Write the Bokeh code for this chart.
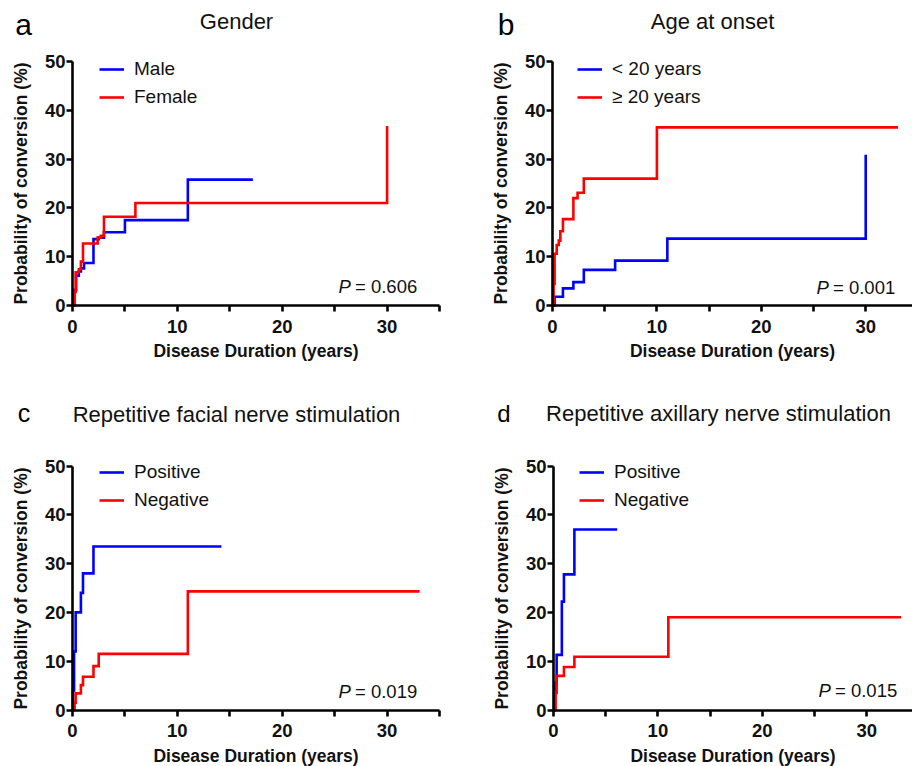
from bokeh.plotting import figure
from bokeh.models import Range1d, FixedTicker, Label, Legend, LegendItem
from bokeh.layouts import gridplot
from bokeh.embed import file_html
from bokeh.resources import INLINE

FONT = "Liberation Sans"
BLUE = "#0000FF"
RED = "#FF0000"
INK = "#111111"

# ---------------- data ----------------
# Panel a: Gender
a_male_t = [0, 0.15, 0.35, 0.6, 0.8, 1.1, 2.0, 2.5, 3.0, 5.0, 11.0, 17.2]
a_male_v = [0, 3.2, 6.1, 7.0, 7.6, 8.7, 13.6, 13.9, 15.0, 17.5, 25.8, 25.8]
a_female_t = [0, 0.2, 0.3, 0.6, 0.8, 1.0, 2.4, 2.7, 3.0, 6.0, 30.0]
a_female_v = [0, 2.8, 6.8, 7.4, 9.0, 12.7, 13.9, 14.3, 18.2, 21.0, 36.8]

# Panel b: Age at onset
b_young_t = [0, 0.2, 1.0, 2.0, 3.0, 6.0, 11.0, 30.0]
b_young_v = [0, 1.8, 3.5, 4.8, 7.3, 9.2, 13.7, 30.9]
b_old_t = [0, 0.1, 0.2, 0.4, 0.6, 0.75, 1.0, 2.0, 2.4, 3.0, 10.0, 33.1]
b_old_v = [0, 4.4, 10.6, 12.4, 13.3, 15.2, 17.7, 22.0, 23.1, 26.0, 36.5, 36.5]

# Panel c: Repetitive facial nerve stimulation
c_pos_t = [0, 0.05, 0.15, 0.3, 0.8, 1.0, 2.0, 14.2]
c_pos_v = [0, 4.0, 12.0, 20.0, 24.0, 28.0, 33.5, 33.5]
c_neg_t = [0, 0.2, 0.3, 0.8, 1.0, 2.0, 2.5, 11.0, 33.1]
c_neg_v = [0, 1.5, 3.4, 5.1, 6.8, 9.0, 11.5, 24.3, 24.3]

# Panel d: Repetitive axillary nerve stimulation
d_pos_t = [0, 0.13, 0.3, 0.8, 1.0, 2.0, 6.1]
d_pos_v = [0, 5.6, 11.3, 22.2, 27.8, 37.0, 37.0]
d_neg_t = [0, 0.2, 0.3, 1.0, 2.0, 11.0, 33.3]
d_neg_v = [0, 3.5, 7.0, 8.8, 10.9, 19.0, 19.0]

y_ticks = [0, 10, 20, 30, 40, 50]
x_major = [0, 10, 20, 30]
x_minor = [5, 15, 25, 35]
x_bounds = (0, 35)
y_bounds = (0, 50)

titles = ["Gender", "Age at onset", "Repetitive facial nerve stimulation",
          "Repetitive axillary nerve stimulation"]
letters = ["a", "b", "c", "d"]
legend_labels = [["Male", "Female"], ["< 20 years", "\u2265 20 years"],
                 ["Positive", "Negative"], ["Positive", "Negative"]]
p_values = ["0.606", "0.001", "0.019", "0.015"]

W, H = 456, 383


def make_panel(blue_t, blue_v, red_t, red_v, labels, title, letter, pval,
               x0, y0, ppx, ppy,
               title_x, title_y, letter_x, letter_y, letter_size,
               p_x, p_y, leg_x, leg_y):
    # x0, y0: pixel position of the data origin (from left / from top)
    p = figure(width=W, height=H, output_backend="svg", toolbar_location=None,
               x_range=Range1d(-x0 / ppx, (W - x0) / ppx),
               y_range=Range1d(-(H - y0) / ppy, y0 / ppy),
               min_border=0)
    p.outline_line_color = None
    p.grid.visible = False
    p.background_fill_color = "white"
    p.border_fill_color = "white"

    rb = p.step(blue_t, blue_v, mode="after", line_color=BLUE, line_width=2.6,
                line_join="miter")
    rr = p.step(red_t, red_v, mode="after", line_color=RED, line_width=2.6,
                line_join="miter")

    xa = p.xaxis[0]
    ya = p.yaxis[0]
    xa.fixed_location = 0
    ya.fixed_location = 0
    xa.bounds = x_bounds
    ya.bounds = y_bounds
    xa.ticker = FixedTicker(ticks=x_major, minor_ticks=x_minor)
    ya.ticker = FixedTicker(ticks=y_ticks, minor_ticks=[])
    for ax in (xa, ya):
        ax.axis_line_width = 2.6
        ax.axis_line_color = "black"
        ax.major_tick_line_width = 2.6
        ax.minor_tick_line_width = 2.6
        ax.major_tick_out = 6
        ax.major_tick_in = 0
        ax.minor_tick_out = 6
        ax.minor_tick_in = 0
        ax.major_label_text_font = FONT
        ax.major_label_text_font_style = "bold"
        ax.major_label_text_font_size = "18.5px"
        ax.major_label_text_color = INK
        ax.axis_label_text_font = FONT
        ax.axis_label_text_font_style = "bold"
        ax.axis_label_text_font_size = "17.5px"
        ax.axis_label_text_color = INK
    xa.axis_label = "Disease Duration (years)"
    ya.axis_label = "Probability of conversion (%)"
    xa.major_label_standoff = 8
    ya.major_label_standoff = 1
    xa.axis_label_standoff = 5
    ya.axis_label_standoff = 11

    legend = Legend(items=[LegendItem(label=labels[0], renderers=[rb]),
                           LegendItem(label=labels[1], renderers=[rr])],
                    location=(leg_x, leg_y), padding=0, margin=0, spacing=6,
                    glyph_width=25, glyph_height=20, label_height=20,
                    label_standoff=10, border_line_color=None,
                    background_fill_alpha=0,
                    label_text_font=FONT, label_text_font_size="19px",
                    label_text_color=INK)
    p.add_layout(legend)

    p.add_layout(Label(x=title_x, y=title_y, x_units="screen", y_units="screen",
                       text=title, text_font=FONT, text_font_size="22px",
                       text_align="center", text_baseline="middle",
                       text_color=INK))
    p.add_layout(Label(x=letter_x, y=letter_y, x_units="screen", y_units="screen",
                       text=letter, text_font=FONT, text_font_size=letter_size,
                       text_align="center", text_baseline="middle",
                       text_color="black"))
    p.add_layout(Label(x=p_x, y=p_y, x_units="screen", y_units="screen",
                       text="P", text_font=FONT, text_font_size="18.5px",
                       text_font_style="italic",
                       text_align="left", text_baseline="middle", text_color=INK))
    p.add_layout(Label(x=p_x + 16.5, y=p_y, x_units="screen", y_units="screen",
                       text="= " + pval, text_font=FONT, text_font_size="18.5px",
                       text_align="left", text_baseline="middle", text_color=INK))
    return p


pa = make_panel(a_male_t, a_male_v, a_female_t, a_female_v, legend_labels[0],
                titles[0], letters[0], p_values[0],
                x0=72, y0=305, ppx=10.486, ppy=4.88,
                title_x=236, title_y=362.5, letter_x=23, letter_y=358.7,
                letter_size="30px", p_x=338, p_y=97, leg_x=99, leg_y=275)
pb = make_panel(b_young_t, b_young_v, b_old_t, b_old_v, legend_labels[1],
                titles[1], letters[1], p_values[1],
                x0=96, y0=305, ppx=10.44, ppy=4.88,
                title_x=256, title_y=362.2, letter_x=49.5, letter_y=358.7,
                letter_size="30px", p_x=360, p_y=96, leg_x=121, leg_y=275)
pc = make_panel(c_pos_t, c_pos_v, c_neg_t, c_neg_v, legend_labels[2],
                titles[2], letters[2], p_values[2],
                x0=72, y0=326.5, ppx=10.486, ppy=4.88,
                title_x=236, title_y=352.5, letter_x=23.5, letter_y=354,
                letter_size="25px", p_x=338, p_y=75, leg_x=99, leg_y=255)
pd_ = make_panel(d_pos_t, d_pos_v, d_neg_t, d_neg_v, legend_labels[3],
                 titles[3], letters[3], p_values[3],
                 x0=97, y0=326.5, ppx=10.44, ppy=4.88,
                 title_x=262, title_y=352.7, letter_x=47.5, letter_y=352.6,
                 letter_size="24px", p_x=362, p_y=76, leg_x=123, leg_y=255)

grid = gridplot([[pa, pb], [pc, pd_]], toolbar_location=None)

open("out.html", "w").write(file_html(grid, INLINE))
